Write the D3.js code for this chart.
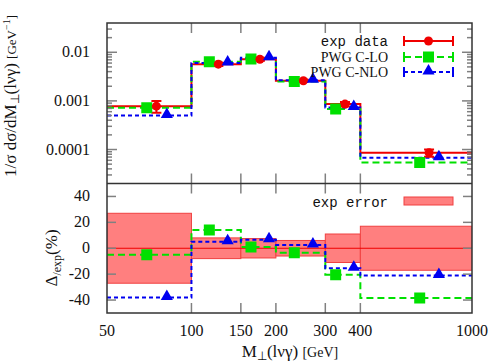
<!DOCTYPE html>
<html>
<head>
<meta charset="utf-8">
<script src="https://cdn.jsdelivr.net/npm/d3@7"></script>
<style>
  body { margin: 0; background: #fff; }
  text { font-family: "Liberation Serif", serif; }
  .mono { font-family: "Liberation Mono", monospace; }
</style>
</head>
<body>
<script>
// bins on M_perp (GeV)
const binEdges = [50, 100, 150, 200, 300, 400, 1000]

// top panel: 1/sigma dsigma/dM
const expVal = [0.00078, 0.0057, 0.0072, 0.0026, 0.00086, 0.000086]
const loVal  = [0.00072, 0.0064, 0.0073, 0.0025, 0.00068, 0.000054]
const nloVal = [0.00050, 0.0060, 0.0077, 0.00265, 0.00073, 0.000068]

// marker positions inside each bin
const expX = [75, 124.7, 175.4, 250.6, 352.6, 703]
const loX  = [69.3, 115.8, 163, 232.6, 326.6, 651]
const nloX = [81.7, 134.6, 189, 271, 379, 762]

// bottom panel: deviation from exp (%)
const expErr = [27, 8, 7.5, 6, 11, 17]
const loDev  = [-5, 14, 1, -3.5, -20.5, -38.5]
const nloDev = [-38, 5, 6.5, 2.5, -15.5, -21]

const xTicks = [50, 100, 150, 200, 300, 400, 1000]
const yTopTicks = [0.0001, 0.001, 0.01]
const yBotTicks = [-40, -20, 0, 20, 40]

const width = 491, height = 363
const pLeft = 107, pRight = 472, pTop = 23, pMid = 183.5, pBottom = 313

const red = "#f00000", green = "#00e000", blue = "#0000f0"

const x = d3.scaleLog([50, 1000], [pLeft, pRight])
const yTop = d3.scaleLog([2e-5, 0.04], [pMid, pTop])
const yBot = d3.scaleLinear([-50, 50], [pBottom, pMid])

const svg = d3.select("body").append("svg")
  .attr("width", width).attr("height", height)

const defs = svg.append("defs")
defs.append("clipPath").attr("id", "clipTop")
  .append("rect").attr("x", pLeft).attr("y", pTop).attr("width", pRight - pLeft).attr("height", pMid - pTop)
defs.append("clipPath").attr("id", "clipBot")
  .append("rect").attr("x", pLeft).attr("y", pMid).attr("width", pRight - pLeft).attr("height", pBottom - pMid)

// step line helper
function steps(vals) {
  const pts = vals.map((v, i) => [binEdges[i], v])
  pts.push([binEdges[binEdges.length - 1], vals[vals.length - 1]])
  return pts
}

const sym = (type, size) => d3.symbol().type(type).size(size)()

// ---- top panel ----
const gTop = svg.append("g").attr("clip-path", "url(#clipTop)")
const lineTop = d3.line().x(d => x(d[0])).y(d => yTop(d[1])).curve(d3.curveStepAfter)

gTop.append("path").attr("d", lineTop(steps(expVal)))
  .attr("fill", "none").attr("stroke", red).attr("stroke-width", 2)
gTop.append("path").attr("d", lineTop(steps(loVal)))
  .attr("fill", "none").attr("stroke", green).attr("stroke-width", 2).attr("stroke-dasharray", "7,4")
gTop.append("path").attr("d", lineTop(steps(nloVal)))
  .attr("fill", "none").attr("stroke", blue).attr("stroke-width", 2).attr("stroke-dasharray", "4,3")

// exp error bars
expVal.forEach((v, i) => {
  const cx = x(expX[i])
  const y1 = yTop(v * (1 + expErr[i] / 100)), y2 = yTop(v * (1 - expErr[i] / 100))
  gTop.append("line").attr("x1", cx).attr("x2", cx).attr("y1", y1).attr("y2", y2)
    .attr("stroke", red).attr("stroke-width", 2)
  ;[y1, y2].forEach(yy => gTop.append("line").attr("x1", cx - 5).attr("x2", cx + 5)
    .attr("y1", yy).attr("y2", yy).attr("stroke", red).attr("stroke-width", 2))
})

gTop.selectAll(".sq").data(loVal).join("path")
  .attr("d", sym(d3.symbolSquare, 121))
  .attr("transform", (d, i) => `translate(${x(loX[i])},${yTop(d)})`).attr("fill", green)
gTop.selectAll(".ci").data(expVal).join("circle")
  .attr("cx", (d, i) => x(expX[i])).attr("cy", d => yTop(d)).attr("r", 4.5).attr("fill", red)
gTop.selectAll(".tr").data(nloVal).join("path")
  .attr("d", sym(d3.symbolTriangle, 64))
  .attr("transform", (d, i) => `translate(${x(nloX[i])},${yTop(d) - 1})`).attr("fill", blue)

// ---- bottom panel ----
const gBot = svg.append("g").attr("clip-path", "url(#clipBot)")
const lineBot = d3.line().x(d => x(d[0])).y(d => yBot(d[1])).curve(d3.curveStepAfter)

expErr.forEach((e, i) => {
  gBot.append("rect")
    .attr("x", x(binEdges[i])).attr("width", x(binEdges[i + 1]) - x(binEdges[i]))
    .attr("y", yBot(e)).attr("height", yBot(-e) - yBot(e))
    .attr("fill", "#ff7f7f").attr("stroke", "#f04040").attr("stroke-width", 1)
})
gBot.append("line").attr("x1", pLeft).attr("x2", pRight).attr("y1", yBot(0)).attr("y2", yBot(0))
  .attr("stroke", red).attr("stroke-width", 1)

gBot.append("path").attr("d", lineBot(steps(loDev)))
  .attr("fill", "none").attr("stroke", green).attr("stroke-width", 2).attr("stroke-dasharray", "7,4")
gBot.append("path").attr("d", lineBot(steps(nloDev)))
  .attr("fill", "none").attr("stroke", blue).attr("stroke-width", 2).attr("stroke-dasharray", "4,3")

gBot.selectAll(".sq").data(loDev).join("path")
  .attr("d", sym(d3.symbolSquare, 121))
  .attr("transform", (d, i) => `translate(${x(loX[i])},${yBot(d)})`).attr("fill", green)
gBot.selectAll(".tr").data(nloDev).join("path")
  .attr("d", sym(d3.symbolTriangle, 64))
  .attr("transform", (d, i) => `translate(${x(nloX[i])},${yBot(d) - 1})`).attr("fill", blue)

// ---- frame and ticks ----
const tickCol = "#808080"
const ticks = svg.append("g").attr("stroke", tickCol).attr("stroke-width", 1.5)
xTicks.slice(1, -1).forEach(t => {
  const xx = x(t)
  ticks.append("line").attr("x1", xx).attr("x2", xx).attr("y1", pTop).attr("y2", pTop + 10)
  ticks.append("line").attr("x1", xx).attr("x2", xx).attr("y1", pMid - 10).attr("y2", pMid + 10)
  ticks.append("line").attr("x1", xx).attr("x2", xx).attr("y1", pBottom - 10).attr("y2", pBottom)
})
// log minor/major ticks on top panel
const logTicks = []
for (let e = -5; e <= -2; e++) for (let m = 1; m <= 9; m++) {
  const v = m * Math.pow(10, e)
  if (v > 2e-5 && v < 0.04) logTicks.push([v, m === 1])
}
logTicks.forEach(([v, major]) => {
  const yy = yTop(v), len = major ? 10 : 5
  ticks.append("line").attr("x1", pLeft).attr("x2", pLeft + len).attr("y1", yy).attr("y2", yy)
  ticks.append("line").attr("x1", pRight - len).attr("x2", pRight).attr("y1", yy).attr("y2", yy)
})
yBotTicks.forEach(v => {
  const yy = yBot(v)
  ticks.append("line").attr("x1", pLeft).attr("x2", pLeft + 9).attr("y1", yy).attr("y2", yy)
  ticks.append("line").attr("x1", pRight - 9).attr("x2", pRight).attr("y1", yy).attr("y2", yy)
})

svg.append("rect").attr("x", pLeft).attr("y", pTop).attr("width", pRight - pLeft).attr("height", pBottom - pTop)
  .attr("fill", "none").attr("stroke", "#333").attr("stroke-width", 1.5)
svg.append("line").attr("x1", pLeft).attr("x2", pRight).attr("y1", pMid).attr("y2", pMid)
  .attr("stroke", "#333").attr("stroke-width", 1.5)

// tick labels
const labs = svg.append("g").attr("font-size", 16).attr("fill", "#111")
yTopTicks.forEach(v => labs.append("text").attr("x", 90).attr("y", yTop(v) + 5)
  .attr("text-anchor", "end").text(v))
yBotTicks.forEach(v => labs.append("text").attr("x", 90).attr("y", yBot(v) + 5)
  .attr("text-anchor", "end").text(v))
xTicks.forEach(t => labs.append("text").attr("x", x(t)).attr("y", 336)
  .attr("text-anchor", "middle").text(t))

// axis titles
const yt = svg.append("text").attr("transform", "translate(16,96) rotate(-90)")
  .attr("text-anchor", "middle").attr("font-size", 17).attr("fill", "#111")
yt.append("tspan").text("1/σ dσ/dM")
yt.append("tspan").attr("font-size", 12).attr("dy", 3).text("⊥")
yt.append("tspan").attr("dy", -3).text("(lνγ) ")
yt.append("tspan").attr("font-size", 13).text("[GeV")
yt.append("tspan").attr("font-size", 10).attr("dy", -6).text("−1")
yt.append("tspan").attr("font-size", 13).attr("dy", 6).text("]")

const yb = svg.append("text").attr("transform", "translate(57,258) rotate(-90)")
  .attr("text-anchor", "middle").attr("font-size", 17).attr("fill", "#111")
yb.append("tspan").text("Δ")
yb.append("tspan").attr("font-size", 12).attr("dy", 4).text("/exp")
yb.append("tspan").attr("dy", -4).text("(%)")

const xt = svg.append("text").attr("x", 290).attr("y", 357)
  .attr("text-anchor", "middle").attr("font-size", 17).attr("fill", "#111")
xt.append("tspan").text("M")
xt.append("tspan").attr("font-size", 12).attr("dy", 3).text("⊥")
xt.append("tspan").attr("dy", -3).text("(lνγ) ")
xt.append("tspan").attr("font-size", 14).text("[GeV]")

// ---- legends ----
const lg = svg.append("g")
const lx1 = 404, lx2 = 453, lxc = 428.5
function legendLine(y, label, col, dash, mono, marker) {
  lg.append("text").attr("class", mono ? "mono" : null).attr("x", 388).attr("y", y + 4.5)
    .attr("text-anchor", "end").attr("font-size", 14).attr("fill", "#111").text(label)
  lg.append("line").attr("x1", lx1).attr("x2", lx2).attr("y1", y).attr("y2", y)
    .attr("stroke", col).attr("stroke-width", 2).attr("stroke-dasharray", dash)
  ;[lx1, lx2].forEach(xx => lg.append("line").attr("x1", xx).attr("x2", xx)
    .attr("y1", y - 5).attr("y2", y + 5).attr("stroke", col).attr("stroke-width", 2))
  marker(y)
}
legendLine(41, "exp data", red, null, true,
  y => lg.append("circle").attr("cx", lxc).attr("cy", y).attr("r", 4.5).attr("fill", red))
legendLine(57, "PWG C-LO", green, "7,4", false,
  y => lg.append("path").attr("d", sym(d3.symbolSquare, 121)).attr("transform", `translate(${lxc},${y})`).attr("fill", green))
legendLine(72, "PWG C-NLO", blue, "4,3", false,
  y => lg.append("path").attr("d", sym(d3.symbolTriangle, 64)).attr("transform", `translate(${lxc},${y - 1})`).attr("fill", blue))

lg.append("text").attr("class", "mono").attr("x", 388).attr("y", 207)
  .attr("text-anchor", "end").attr("font-size", 14).attr("fill", "#111").text("exp error")
lg.append("rect").attr("x", lx1).attr("y", 197).attr("width", lx2 - lx1).attr("height", 8)
  .attr("fill", "#ff7f7f").attr("stroke", "#f04040")
</script>
</body>
</html>
